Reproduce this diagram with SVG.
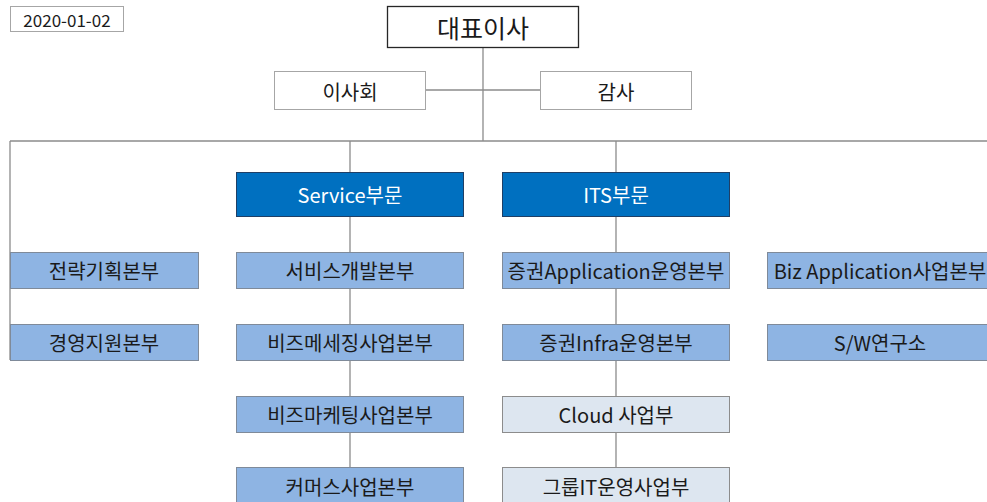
<svg xmlns="http://www.w3.org/2000/svg" width="987" height="502" viewBox="0 0 987 502">
<style>
text{font-family:"Noto Sans CJK KR","Noto Sans",sans-serif;text-anchor:middle;dominant-baseline:central;fill:#1a1a1a}
.w{fill:#fff;stroke:#a6a6a6;stroke-width:1}
.ceo{fill:#fff;stroke:#262626;stroke-width:1.3}
.dk{fill:#0070c0;stroke:#1f3f66;stroke-width:1}
.md{fill:#8eb4e3;stroke:#7f8a99;stroke-width:1}
.lt{fill:#dde6f0;stroke:#8c8c8c;stroke-width:1}
.t{font-size:20px}
.wt{fill:#fff;font-size:20px}
.ln{stroke:#8c8c8c;stroke-width:1.3;fill:none}
</style>
<g id="connectors">
<path class="ln" d="M483 47V141M425 90H540M10 141H987M10 141V360M350 141V172M616 141V172M350 216V467M616 216V467"/>
</g>
<g id="date"><rect class="w" x="10.5" y="6.5" width="113" height="25"/><text x="67" y="19" style="font-size:17px">2020-01-02</text></g>
<g id="ceo"><rect class="ceo" x="387.5" y="6.5" width="191" height="41"/><text x="483" y="27" style="font-size:25px">대표이사</text></g>
<g id="board"><rect class="w" x="274.5" y="71.5" width="151" height="38"/><text x="350" y="91" class="t">이사회</text></g>
<g id="audit"><rect class="w" x="540.5" y="71.5" width="151" height="38"/><text x="616" y="91" class="t">감사</text></g>
<g id="service"><rect class="dk" x="236.5" y="172.5" width="227" height="44"/><text x="350" y="194" class="wt">Service부문</text></g>
<g id="its"><rect class="dk" x="502.5" y="172.5" width="227" height="44"/><text x="616" y="194" class="wt">ITS부문</text></g>
<g id="strategy"><rect class="md" x="10.5" y="252.5" width="188" height="36"/><text x="104" y="270" class="t">전략기획본부</text></g>
<g id="management"><rect class="md" x="10.5" y="324.5" width="188" height="36"/><text x="104" y="342" class="t">경영지원본부</text></g>
<g id="svcdev"><rect class="md" x="236.5" y="252.5" width="227" height="36"/><text x="350" y="270" class="t">서비스개발본부</text></g>
<g id="bizmsg"><rect class="md" x="236.5" y="324.5" width="227" height="36"/><text x="350" y="342" class="t">비즈메세징사업본부</text></g>
<g id="bizmkt"><rect class="md" x="236.5" y="396.5" width="227" height="36"/><text x="350" y="414" class="t">비즈마케팅사업본부</text></g>
<g id="commerce"><rect class="md" x="236.5" y="467.5" width="227" height="36"/><text x="350" y="486" class="t">커머스사업본부</text></g>
<g id="secapp"><rect class="md" x="502.5" y="252.5" width="227" height="36"/><text x="616" y="270" class="t">증권Application운영본부</text></g>
<g id="secinfra"><rect class="md" x="502.5" y="324.5" width="227" height="36"/><text x="616" y="342" class="t">증권Infra운영본부</text></g>
<g id="cloud"><rect class="lt" x="502.5" y="396.5" width="227" height="36"/><text x="616" y="414" class="t">Cloud 사업부</text></g>
<g id="groupit"><rect class="lt" x="502.5" y="467.5" width="227" height="36"/><text x="616" y="486" class="t">그룹IT운영사업부</text></g>
<g id="bizapp"><rect class="md" x="767.5" y="252.5" width="227" height="36"/><text x="880" y="270" class="t">Biz Application사업본부</text></g>
<g id="swlab"><rect class="md" x="767.5" y="324.5" width="227" height="36"/><text x="880" y="342" class="t">S/W연구소</text></g>
</svg>
